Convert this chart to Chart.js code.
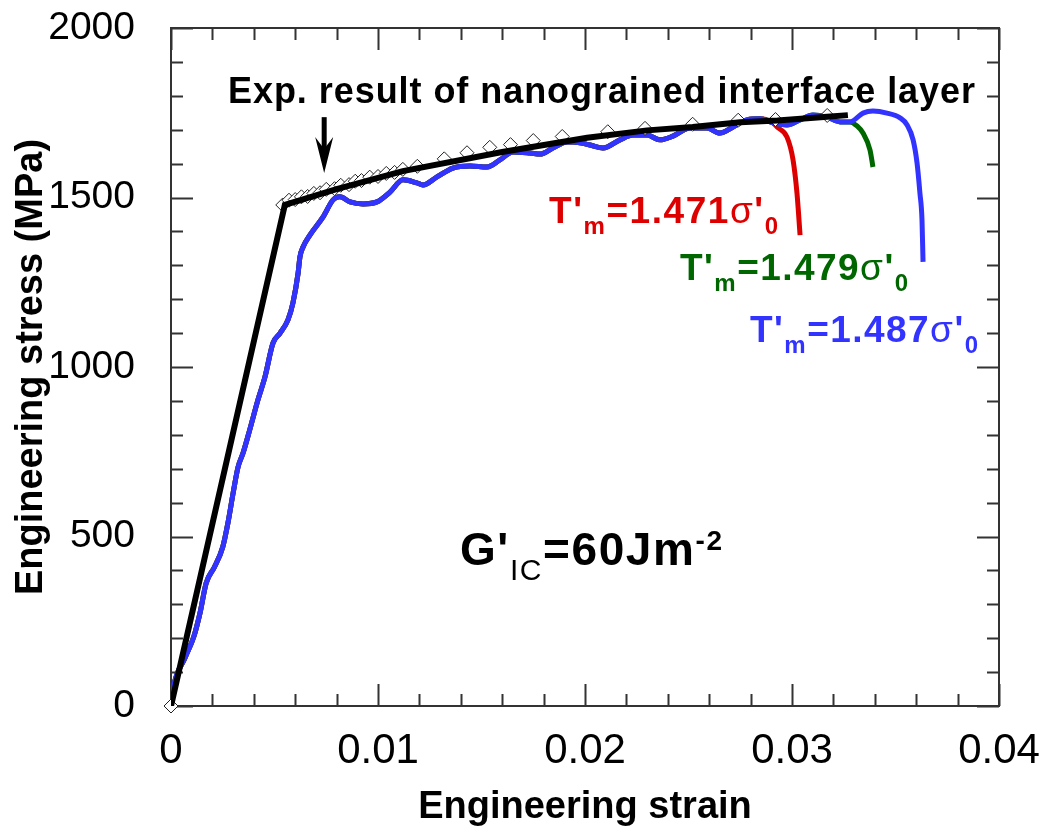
<!DOCTYPE html>
<html>
<head>
<meta charset="utf-8">
<script src="https://cdn.jsdelivr.net/npm/chart.js@4.4.1/dist/chart.umd.min.js"></script>
<style>
  html, body { margin: 0; padding: 0; background: #fff; }
  canvas { display: block; }
</style>
</head>
<body>
<canvas id="myChart" width="1049" height="839"></canvas>
<script>
// tick labels
const xTickLabels = ['0', '0.01', '0.02', '0.03', '0.04'];
const yTickLabels = ['0', '500', '1000', '1500', '2000'];

// experimental points (open diamonds)
const expStrain = [0, 0.0054, 0.0057, 0.0060, 0.0063, 0.0066, 0.0069, 0.0072, 0.0075, 0.0079, 0.0082,
    0.0086, 0.0089, 0.0092, 0.0096, 0.0100, 0.0104, 0.0108, 0.0112, 0.0119, 0.0132, 0.0143,
    0.0154, 0.0164, 0.0175, 0.0189, 0.0211, 0.0229, 0.0252, 0.0274, 0.0292, 0.0317];
const expStress = [0, 1478, 1492, 1494, 1502, 1503, 1512, 1514, 1524, 1526, 1536,
    1538, 1548, 1550, 1560, 1562, 1571, 1574, 1583, 1592, 1614, 1632,
    1648, 1656, 1668, 1680, 1694, 1704, 1716, 1728, 1730, 1742];

// black fitted curve
const blackStrain = [0, 0.0055, 0.0080, 0.0112, 0.0160, 0.0201, 0.0230, 0.0252, 0.0275, 0.0293, 0.0317, 0.0327];
const blackStress = [0, 1478, 1525, 1578, 1634, 1676, 1698, 1708, 1722, 1727, 1738, 1743];

// simulated curves, common part of all three
const simStrain = [0, 0.0001, 0.0007, 0.0011, 0.0014, 0.0017, 0.0021, 0.0025, 0.00275, 0.0030, 0.00324,
    0.00348, 0.0038, 0.0042, 0.00454, 0.00493, 0.00527, 0.00565, 0.00589, 0.00614, 0.00623,
    0.00638, 0.00671, 0.00734, 0.00783, 0.00816, 0.00865, 0.00928, 0.00995, 0.01058, 0.01121,
    0.01188, 0.01217, 0.01285, 0.01362, 0.01444, 0.01527, 0.01589, 0.01652, 0.01734, 0.01783,
    0.01845, 0.01913, 0.01942, 0.02024, 0.02087, 0.02169, 0.02232, 0.02300, 0.02362, 0.02425,
    0.02507, 0.02589, 0.02652, 0.02715, 0.02783, 0.02845, 0.02908];
const simStress = [0, 50, 145, 204, 274, 363, 410, 469, 540, 628, 705,
    746, 814, 903, 971, 1071, 1100, 1139, 1189, 1277, 1325,
    1354, 1389, 1442, 1493, 1502, 1487, 1481, 1487, 1516, 1552,
    1543, 1537, 1561, 1587, 1593, 1590, 1611, 1634, 1631, 1628,
    1646, 1664, 1664, 1655, 1646, 1670, 1684, 1684, 1670, 1681,
    1705, 1705, 1690, 1708, 1729, 1732, 1720];
// shared by green and blue only
const midStrain = [0.02976, 0.03039, 0.03101, 0.03169, 0.03232, 0.03280];
const midStress = [1714, 1729, 1743, 1737, 1723, 1723];

const redTailStrain = [0.02928, 0.02976, 0.03005, 0.03024, 0.03039];
const redTailStress = [1708, 1678, 1611, 1513, 1389];
const greenTailStrain = [0.03314, 0.03343, 0.03377, 0.03391];
const greenTailStress = [1711, 1690, 1640, 1590];
const blueTailStrain = [0.03343, 0.03391, 0.03459, 0.03522, 0.03556, 0.03585, 0.03604, 0.03618, 0.03628, 0.03633];
const blueTailStress = [1749, 1755, 1749, 1735, 1714, 1670, 1602, 1513, 1434, 1310];

const FONT = '"Liberation Sans", Arial, sans-serif';
const RED = '#dd0000', GREEN = '#006600', BLUE = '#3333ff';

function pts(xs, ys) {
    return xs.map((x, i) => ({x: x, y: ys[i]}));
}

const redData = pts(simStrain.concat(redTailStrain), simStress.concat(redTailStress));
const greenData = pts(simStrain.concat(midStrain, greenTailStrain), simStress.concat(midStress, greenTailStress));
const blueData = pts(simStrain.concat(midStrain, blueTailStrain), simStress.concat(midStress, blueTailStress));

// text with sub/superscripts, stretched to a given width
function drawRuns(ctx, x, y, runs, color, width) {
    ctx.save();
    ctx.fillStyle = color;
    ctx.textBaseline = 'alphabetic';
    ctx.textAlign = 'left';
    let total = 0, count = 0;
    runs.forEach(r => {
        ctx.font = r[1];
        for (const ch of r[0]) { total += ctx.measureText(ch).width; count++; }
    });
    const extra = width ? (width - total) / Math.max(count - 1, 1) : 0;
    let cx = x;
    runs.forEach(r => {
        ctx.font = r[1];
        for (const ch of r[0]) {
            ctx.fillText(ch, cx, y + (r[2] || 0));
            cx += ctx.measureText(ch).width + extra;
        }
    });
    ctx.restore();
}

function tmLabel(num, size) {
    const b = 'bold ' + size + 'px ' + FONT;
    const s = 'bold ' + Math.round(size * 0.66) + 'px ' + FONT;
    return [["T'", b, 0], ['m', s, 11], ['=' + num, b, 0], ['σ', size + 'px ' + FONT, 0], ["'", b, 0], ['0', s, 11]];
}

const frame = {
    id: 'frame',
    beforeDatasetsDraw(chart) {
        const {ctx, chartArea: a, scales: {x, y}} = chart;
        ctx.save();
        ctx.strokeStyle = '#333';
        ctx.lineWidth = 2;
        ctx.strokeRect(a.left, a.top, a.right - a.left, a.bottom - a.top);
        ctx.beginPath();
        x.ticks.forEach((t, i) => {
            const px = Math.round(x.getPixelForValue(t.value)) + 0.5;
            const len = i % 5 === 0 ? 22 : 12;
            ctx.moveTo(px, a.bottom); ctx.lineTo(px, a.bottom - len);
            ctx.moveTo(px, a.top); ctx.lineTo(px, a.top + len);
        });
        y.ticks.forEach((t, i) => {
            const py = Math.round(y.getPixelForValue(t.value)) + 0.5;
            const len = i % 5 === 0 ? 22 : 12;
            ctx.moveTo(a.left, py); ctx.lineTo(a.left + len, py);
            ctx.moveTo(a.right, py); ctx.lineTo(a.right - len, py);
        });
        ctx.stroke();
        ctx.restore();
    },
    afterDraw(chart) {
        const {ctx, scales: {x, y}} = chart;
        drawRuns(ctx, 228, 103, [['Exp. result of nanograined interface layer', 'bold 36px ' + FONT, 0]], '#000', 747);

        // arrow
        const ax = x.getPixelForValue(0.0074);
        const top = y.getPixelForValue(1737), tip = y.getPixelForValue(1572);
        ctx.save();
        ctx.fillStyle = '#000';
        ctx.fillRect(ax - 2.5, top, 5, tip - top - 20);
        ctx.beginPath();
        ctx.moveTo(ax, tip);
        ctx.lineTo(ax - 9, tip - 36);
        ctx.lineTo(ax, tip - 24);
        ctx.lineTo(ax + 9, tip - 36);
        ctx.closePath();
        ctx.fill();
        ctx.restore();

        drawRuns(ctx, 549, 223, tmLabel('1.471', 37), RED, 229);
        drawRuns(ctx, 680, 280, tmLabel('1.479', 37), GREEN, 228);
        drawRuns(ctx, 750, 342, tmLabel('1.487', 37), BLUE, 228);

        drawRuns(ctx, 460, 565, [["G'", 'bold 46px ' + FONT, 0], ['IC', '30px ' + FONT, 15],
            ['=60Jm', 'bold 46px ' + FONT, 0], ['-2', 'bold 28px ' + FONT, -15]], '#000', 262);
    }
};

const ctx = document.getElementById('myChart');
const myChart = new Chart(ctx, {
    type: 'line',
    data: {
        datasets: [
            {label: 'fit', data: pts(blackStrain, blackStress), borderColor: '#000', borderWidth: 6,
                pointRadius: 0, tension: 0},
            {label: 'Exp.', data: pts(expStrain, expStress), showLine: false, pointStyle: 'rectRot',
                pointRadius: 7, pointBorderWidth: 1, pointBorderColor: '#222', pointBackgroundColor: '#fff', clip: false},
            {label: '1.487', data: blueData, borderColor: BLUE, borderWidth: 5, pointRadius: 0,
                cubicInterpolationMode: 'monotone', borderJoinStyle: 'round'},
            {label: '1.479', data: greenData, borderColor: GREEN, borderWidth: 5, pointRadius: 0,
                cubicInterpolationMode: 'monotone', borderJoinStyle: 'round'},
            {label: '1.471', data: redData, borderColor: RED, borderWidth: 5, pointRadius: 0,
                cubicInterpolationMode: 'monotone', borderJoinStyle: 'round'}
        ]
    },
    options: {
        responsive: false,
        animation: false,
        devicePixelRatio: 1,
        layout: {padding: {top: 28, right: 50, left: 0, bottom: 0}},
        plugins: {legend: {display: false}, tooltip: {enabled: false}},
        scales: {
            x: {
                type: 'linear', min: 0, max: 0.04,
                afterFit: s => { s.height = 133; s.paddingRight = 0; },
                grid: {display: false}, border: {display: false},
                ticks: {
                    stepSize: 0.002, autoSkip: false, maxRotation: 0, padding: 12, color: '#000',
                    font: {family: FONT, size: 42},
                    callback: (v, i) => i % 5 === 0 ? xTickLabels[i / 5] : ''
                },
                title: {display: true, text: 'Engineering strain', color: '#000',
                    font: {family: FONT, size: 38, weight: 'bold'}, padding: {top: 0, bottom: 9}}
            },
            y: {
                type: 'linear', min: 0, max: 2000,
                // label padding would otherwise push the plot top down
                afterFit: s => { s.width = 171; s.paddingTop = 0; s.paddingBottom = 0; },
                grid: {display: false}, border: {display: false},
                ticks: {
                    stepSize: 100, autoSkip: false, padding: 28, color: '#000',
                    font: {family: FONT, size: 39},
                    callback: (v, i) => i % 5 === 0 ? yTickLabels[i / 5] : ''
                },
                title: {display: true, text: 'Engineering stress (MPa)', color: '#000',
                    font: {family: FONT, size: 38, weight: 'bold'}, padding: {top: 9, bottom: 0}}
            }
        }
    },
    plugins: [frame]
});
</script>
</body>
</html>
